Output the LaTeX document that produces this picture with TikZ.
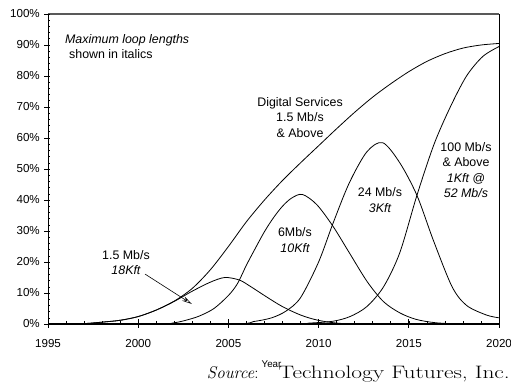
\documentclass[tikz,border=0pt]{standalone}
\usepackage{fontspec}
\newfontfamily\chartfont{Liberation Sans}
\usetikzlibrary{arrows.meta}

\tikzset{
  curve/.style={line width=0.8pt, line join=round},
  note/.style={font=\chartfont\fontsize{12.4}{15.5}\selectfont, align=center, inner sep=0pt},
  ticklabel/.style={font=\chartfont\fontsize{11.6}{12}\selectfont, inner sep=0pt},
}

\begin{document}
\begin{tikzpicture}[x=18.04pt, y=3.1pt]
\useasboundingbox (-2.661,-20) rectangle (25.665,104.516);

\draw[line width=1.4pt, black!65] (0,100) -- (25,100);
\draw[line width=0.8pt] (25,100) -- (25,0);
\draw[line width=0.8pt] (0,0) -- (0,100);
\foreach \p in {0,2,...,100}
  \draw[line width=0.6pt] (0,\p) -- ++(2pt,0);
\foreach \p in {0,10,...,100} {
  \draw[line width=0.8pt] (0,\p) ++(-4pt,0) -- ++(6pt,0);
  \node[ticklabel, anchor=east] (y\p) at ([xshift=-8pt]0,\p) {\p\%};
}

\draw[line width=2.2pt] (0,0) -- (25,0);
\foreach \t in {0,...,25}
  \draw[line width=0.6pt] (\t,0) -- ++(0,3pt);
\foreach \t in {0,5,...,25} {
  \pgfmathtruncatemacro\yr{1995+\t}
  \draw[line width=0.8pt] (\t,0) ++(0,5pt) -- ++(0,-8.5pt);
  \node[ticklabel] (x\yr) at ([yshift=-20pt]\t,0) {\yr};
}

\draw[curve] plot[smooth] coordinates {(0,0) (1.5,0) (2.2,0.2) (3,0.6) (4,1.2)
  (5,2.4) (6,4.5) (7,7.4) (8,11.5) (9,17.5) (10,25) (11,33) (12,40) (13,46.3)
  (14,52) (15,57.5) (16,63) (17,68.3) (18,73.2) (19,77.5) (20,81.4) (21,84.7)
  (22,87.2) (23,89) (24,90) (25,90.5)};
\draw[curve] plot[smooth] coordinates {(0,0) (1.5,0) (2.2,0.2) (3,0.6) (4,1.2)
  (5,2.4) (6,4.5) (7,7.3) (8,10.6) (9,13.5) (9.8,15) (10.6,14.2) (11.2,12.2)
  (12.1,8.8) (13,5.6) (14,2.9) (14.9,1.3) (16,0.3) (17.5,0) (25,0)};
\draw[curve] plot[smooth] coordinates {(0,0) (6,0) (7,0.4) (7.7,1.3) (8.4,2.6)
  (9.2,5) (10,9.2) (10.5,13) (11,19) (11.5,24.5) (12,29.8) (12.5,34.3) (13,38)
  (13.5,40.6) (14.1,41.8) (14.9,38.5) (15.8,31.5) (16.7,23) (17.7,13.6)
  (18.6,7.2) (19.5,3.6) (20.4,1.5) (21.5,0.4) (23,0) (25,0)};
\draw[curve] plot[smooth] coordinates {(0,0) (10,0) (11.4,0.8) (12.4,2) (13.2,4.2)
  (14,8.5) (15,20) (15.8,32.5) (16.7,45.5) (17.67,55.5) (18.55,58.5)
  (19.5,52) (20.45,41.5) (21.36,27) (22.4,12) (23.2,6) (24.3,2.9) (25,2)};
\draw[curve] plot[smooth] coordinates {(0,0) (13,0) (14.5,0.3) (15.8,0.9)
  (16.74,2.4) (17.67,5.6) (18.6,12) (19.5,23) (20.45,41.5) (21.4,58) (22.3,70)
  (23.2,80) (24.1,86.3) (25,89.5)};

\node[note, align=left, anchor=north west] (maxloop) at (0.94,93.5)
  {\itshape Maximum loop lengths\\\hspace*{4pt}shown in italics};
\node[note] (digital) at (13.97,66.6)
  {Digital Services\\1.5 Mb/s\\\& Above};
\node[note] (mb100) at (23.17,49.7)
  {100 Mb/s\\\& Above\\\itshape 1Kft @\\\itshape 52 Mb/s};
\node[note] (mb24) at (18.4,40)
  {24 Mb/s\\\itshape 3Kft};
\node[note] (mb6) at (13.69,27.1)
  {6Mb/s\\\itshape 10Kft};
\node[note] (mb15) at (4.32,19.8)
  {1.5 Mb/s\\\itshape 18Kft};

\coordinate (arrbeg) at (5.38,16.1);
\coordinate (arrtip) at (7.97,6.45);
\draw[line width=0.6pt, -{Stealth[open, length=10pt, width=5pt]}] (arrbeg) -- (arrtip);

\node[font=\chartfont\fontsize{9.8}{10}\selectfont, inner sep=0pt] (year) at (12.39,-12.9) {Year};
\node[font=\fontsize{17}{20}\selectfont, inner sep=0pt, anchor=base west] (source)
  at (8.8,-17.74) {\textit{Source}:\hspace{20pt}\scalebox{1.3}[1]{\fontsize{18}{20}\selectfont Technology Futures, Inc.}};
\end{tikzpicture}
\end{document}
